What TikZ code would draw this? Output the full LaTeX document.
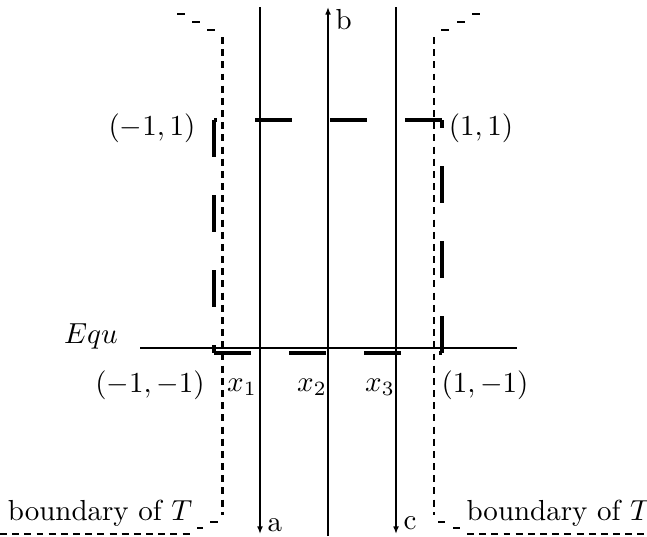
\documentclass[tikz,border=0pt]{standalone}
\usetikzlibrary{arrows.meta}
\begin{document}
\begin{tikzpicture}[x=0.345pt,y=-0.345pt,
  axis/.style={line width=0.8pt},
  seg/.style={line width=1.3pt, dash pattern=on 12.8pt off 13.1pt},
  bnd/.style={line width=0.7pt, dash pattern=on 2.4pt off 1.8pt},
  stp/.style={line width=0.7pt},
  tipd/.style={-{Latex[length=2.6pt,width=2pt]}},
  lbl/.style={inner sep=0pt}]
\useasboundingbox (0,0) rectangle (647,536);
% strands
\coordinate (aT) at (260,7);  \coordinate (aB) at (260,534);
\coordinate (bB) at (328,536); \coordinate (bT) at (328,7);
\coordinate (cT) at (396,7);  \coordinate (cB) at (396,534);
\draw[axis,tipd] (aT) -- (aB);
\draw[axis,tipd] (bB) -- (bT);
\draw[axis,tipd] (cT) -- (cB);
\node[lbl,anchor=base west] (la) at (267,531) {a};
\node[lbl,anchor=base west] (lb) at (335,29) {b};
\node[lbl,anchor=base west] (lc) at (403,529) {c};
% Equ line
\coordinate (eL) at (140,348); \coordinate (eR) at (517,348);
\draw[axis] (eL) -- (eR);
\node[lbl] (equ) at (91,336) {$Equ$};
% dashed square
\coordinate (sTL) at (214,120); \coordinate (sBL) at (214,353);
\coordinate (sBR) at (442,353); \coordinate (sTR) at (442,120);
\draw[seg] (sTL) -- (sBL);
\draw[seg] (sBL) -- (sBR);
\draw[seg] (sBR) -- (sTR);
\draw[seg] (sTR) -- (sTL);
\node[lbl] (pTL) at (152,128) {$(-1,1)$};
\node[lbl] (pTR) at (481,128) {$(1,1)$};
\node[lbl] (pBL) at (150,385) {$(-1,-1)$};
\node[lbl] (pBR) at (485,385) {$(1,-1)$};
\node[lbl] (x1) at (242,387) {$x_1$};
\node[lbl] (x2) at (312,387) {$x_2$};
\node[lbl] (x3) at (380,387) {$x_3$};
% boundary of T (left)
\coordinate (l1) at (0,534); \coordinate (l2) at (190,534);
\coordinate (l4) at (222.5,37); \coordinate (l3) at (222.5,515);
\draw[bnd] (l1) -- (l2);
\draw[bnd] (l4) -- (l3);
\draw[stp] (177,14) -- (185,14) (192,22) -- (200,22) (207,30) -- (215,30);
\draw[stp] (210,522) -- (218,522) (197,528) -- (203,528);
% boundary of T (right)
\coordinate (r1) at (647,534); \coordinate (r2) at (467,534);
\coordinate (r4) at (434,37); \coordinate (r3) at (434,515);
\draw[bnd] (r2) -- (r1);
\draw[bnd] (r4) -- (r3);
\draw[stp] (441,30) -- (449,30) (457,22) -- (465,22) (472,14) -- (480,14);
\draw[stp] (438,522) -- (445,522) (453,528) -- (460,528);
\node[lbl,anchor=base east] (bl) at (193,520) {boundary of $T$};
\node[lbl,anchor=base west] (br) at (466,520) {boundary of $T$};
\end{tikzpicture}
\end{document}
